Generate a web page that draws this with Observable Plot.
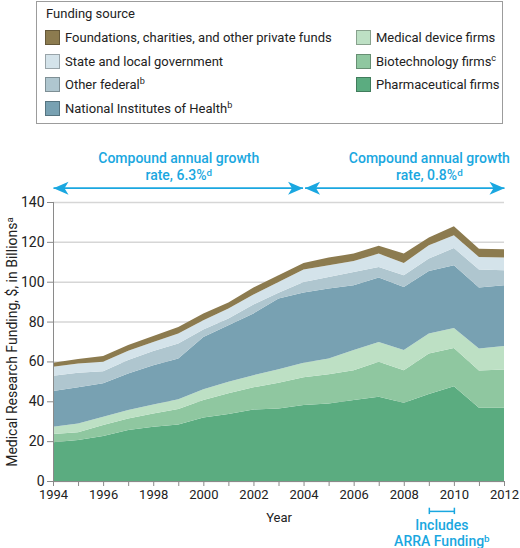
<!DOCTYPE html>
<html>
<head>
<meta charset="utf-8">
<script src="https://cdn.jsdelivr.net/npm/d3@7"></script>
<script src="https://cdn.jsdelivr.net/npm/@observablehq/plot@0.6"></script>
<style>
  html, body { margin: 0; padding: 0; background: #fff; }
  body { width: 520px; height: 548px; position: relative; overflow: hidden; font-family: Roboto, "Noto Sans", sans-serif; color: #222; }
  #legend { position: absolute; left: 36px; top: 1px; width: 467px; height: 123px; border: 1px solid #9c9c9c; box-sizing: border-box; font-size: 13px; }
  #legend .title { position: absolute; left: 9px; top: 4px; }
  #legend .item { position: absolute; display: flex; align-items: center; height: 17px; white-space: nowrap; }
  #legend .sw { width: 15px; height: 15px; border: 1px solid rgba(0,0,0,0.28); margin-right: 5px; box-sizing: border-box; }
  #legend sup { font-size: 70%; line-height: 0; vertical-align: 0.5em; }
  #chart { position: absolute; left: 0; top: 0; }
</style>
</head>
<body>
<div id="chart"></div>
<div id="legend"></div>
<script>
// ---- Data (billions of US$) ----
const years = [1994, 1995, 1996, 1997, 1998, 1999, 2000, 2001, 2002, 2003, 2004, 2005, 2006, 2007, 2008, 2009, 2010, 2011, 2012];
const pharmaceutical = [19.4, 20.6, 22.6, 25.6, 27.2, 28.4, 31.9, 33.6, 35.9, 36.4, 38.1, 38.9, 40.6, 42.3, 39.3, 43.6, 47.6, 36.8, 36.8];
const biotechnology  = [4.2, 3.8, 5.5, 5.8, 6.7, 7.7, 8.7, 10.4, 11.1, 12.9, 13.9, 14.7, 15.0, 17.5, 16.3, 20.4, 19.1, 18.6, 19.2];
const medicalDevice  = [3.6, 4.5, 4.1, 4.2, 4.5, 4.9, 5.4, 5.8, 6.1, 6.8, 7.3, 7.9, 10.1, 10.0, 10.1, 10.0, 10.1, 11.1, 11.7];
const nih            = [17.9, 18.2, 16.8, 18.4, 19.7, 20.5, 26.3, 28.4, 31.0, 35.5, 35.3, 35.1, 32.5, 32.3, 31.7, 31.4, 31.5, 30.6, 30.5];
const otherFederal   = [7.7, 7.2, 6.1, 6.7, 7.1, 7.5, 3.7, 3.4, 4.5, 2.8, 5.3, 5.8, 6.7, 5.3, 5.9, 6.2, 8.6, 9.0, 7.6];
const stateLocal     = [4.5, 4.7, 4.7, 4.6, 4.6, 5.0, 4.7, 5.0, 5.0, 5.5, 6.2, 5.9, 5.5, 6.7, 6.1, 6.7, 6.4, 6.3, 6.3];
const foundations    = [2.0, 2.2, 2.9, 2.9, 3.0, 3.3, 3.4, 3.0, 3.5, 3.4, 3.3, 3.8, 3.7, 4.0, 4.7, 3.9, 4.5, 4.2, 4.2];

// stacking order, bottom to top
const sources = [
  "Pharmaceutical firms",
  "Biotechnology firms",
  "Medical device firms",
  "National Institutes of Health",
  "Other federal",
  "State and local government",
  "Foundations, charities, and other private funds"
];
const sourceColors = ["#5bac80", "#8fc7a0", "#bde0c4", "#78a1b2", "#afc6cf", "#d4e3ea", "#8c7b4f"];
const seriesValues = [pharmaceutical, biotechnology, medicalDevice, nih, otherFederal, stateLocal, foundations];

// legend layout (left column, right column) and footnote marks
const legendLeft = ["Foundations, charities, and other private funds", "State and local government", "Other federal", "National Institutes of Health"];
const legendRight = ["Medical device firms", "Biotechnology firms", "Pharmaceutical firms"];
const legendNotes = {"Other federal": "b", "National Institutes of Health": "b", "Biotechnology firms": "c"};

const yTicks = [0, 20, 40, 60, 80, 100, 120, 140];

// annotations
const growthLabels = [
  {x: 1999, text: "Compound annual growth\nrate, 6.3%^d"},
  {x: 2009, text: "Compound annual growth\nrate, 0.8%^d"}
];
const growthArrows = [{x1: 1994, x2: 2003.96}, {x1: 2004.04, x2: 2012}];
const arrowY = 147.2;
const labelY = 165.6;
const arraSpan = {x1: 2009, x2: 2010};
const arraLabel = "Includes\nARRA Funding^b";

// ---- Build tidy rows ----
const rows = years.flatMap((yr, i) => sources.map((s, k) => ({year: yr, source: s, value: seriesValues[k][i]})));

const blue = "#1aa7e0";
const rightHead = {draw(c) { c.moveTo(0, 0); c.lineTo(-15, -6.5); c.lineTo(-11, 0); c.lineTo(-15, 6.5); c.closePath(); }};
const leftHead  = {draw(c) { c.moveTo(0, 0); c.lineTo(15, -6.5); c.lineTo(11, 0); c.lineTo(15, 6.5); c.closePath(); }};

const chart = Plot.plot({
  width: 520,
  height: 548,
  marginTop: 202,
  marginBottom: 67,
  marginLeft: 53,
  marginRight: 16,
  style: {fontSize: "13px", fontFamily: "Roboto, 'Noto Sans', sans-serif", color: "#222", background: "transparent"},
  x: {domain: [1994, 2012]},
  y: {domain: [0, 140]},
  color: {domain: sources, range: sourceColors},
  marks: [
    Plot.gridY(yTicks, {stroke: "#d6d6d6", strokeOpacity: 1, strokeWidth: 1.5}),
    Plot.areaY(rows, {x: "year", y: "value", z: "source", fill: "source", order: sources}),
    Plot.ruleX([1994], {stroke: "#8a8a8a"}),
    Plot.ruleY([0], {stroke: "#8a8a8a"}),
    Plot.axisY({ticks: yTicks, tickSize: 6, tickPadding: 3, stroke: "#8a8a8a",
      label: "Medical Research Funding, $, in Billions^a", labelAnchor: "center", labelArrow: "none", labelOffset: 46, fontSize: 14}),
    Plot.axisX({ticks: years, tickFormat: d => (d % 2 === 0 ? String(d) : ""), tickSize: 5, tickPadding: 3, stroke: "#8a8a8a",
      label: "Year", labelAnchor: "center", labelArrow: "none", labelOffset: 40, fontSize: 13}),
    // growth-rate arrows
    Plot.link(growthArrows, {x1: "x1", x2: "x2", y1: arrowY, y2: arrowY, stroke: blue, strokeWidth: 1.7}),
    Plot.dot(growthArrows, {x: "x1", y: arrowY, symbol: leftHead, fill: blue, stroke: "none", r: 5}),
    Plot.dot(growthArrows, {x: "x2", y: arrowY, symbol: rightHead, fill: blue, stroke: "none", r: 5}),
    Plot.text(growthLabels, {x: "x", y: labelY, text: "text", fill: blue, fontSize: 14, fontWeight: 500, lineAnchor: "top", lineHeight: 1.2, textAnchor: "middle"}),
    // ARRA bracket
    Plot.link([arraSpan], {x1: "x1", x2: "x2", y1: -15, y2: -15, stroke: blue, strokeWidth: 1.5}),
    Plot.ruleX([arraSpan.x1, arraSpan.x2], {y1: -13.4, y2: -16.6, stroke: blue, strokeWidth: 1.5}),
    Plot.text([arraLabel], {x: (arraSpan.x1 + arraSpan.x2) / 2, y: -18.7, text: d => d, fill: blue, fontSize: 14, fontWeight: 500, lineAnchor: "top", lineHeight: 1.15, textAnchor: "middle"})
  ]
});

// superscripts: turn "^x" into raised tspans
function superscriptify(root) {
  const nodes = Array.from(root.querySelectorAll("text, tspan")).filter(n => n.children.length === 0 && n.textContent.includes("^"));
  for (const n of nodes) {
    const parts = n.textContent.split(/\^(\w)/);
    n.textContent = "";
    parts.forEach((p, i) => {
      if (i % 2 === 0) { if (p) n.appendChild(document.createTextNode(p)); }
      else {
        const t = document.createElementNS("http://www.w3.org/2000/svg", "tspan");
        t.setAttribute("font-size", "70%");
        t.setAttribute("dy", "-0.45em");
        t.textContent = p;
        n.appendChild(t);
      }
    });
  }
}
superscriptify(chart);
document.getElementById("chart").appendChild(chart);

// ---- Legend ----
const legend = document.getElementById("legend");
const title = document.createElement("div");
title.className = "title";
title.textContent = "Funding source";
legend.appendChild(title);
function addItem(name, left, row) {
  const item = document.createElement("div");
  item.className = "item";
  item.style.left = left + "px";
  item.style.top = (27 + row * 23.5) + "px";
  const sw = document.createElement("div");
  sw.className = "sw";
  sw.style.background = sourceColors[sources.indexOf(name)];
  item.appendChild(sw);
  const label = document.createElement("span");
  label.textContent = name;
  if (legendNotes[name]) {
    const sup = document.createElement("sup");
    sup.textContent = legendNotes[name];
    label.appendChild(sup);
  }
  item.appendChild(label);
  legend.appendChild(item);
}
legendLeft.forEach((n, i) => addItem(n, 8, i));
legendRight.forEach((n, i) => addItem(n, 319, i));
</script>
</body>
</html>
